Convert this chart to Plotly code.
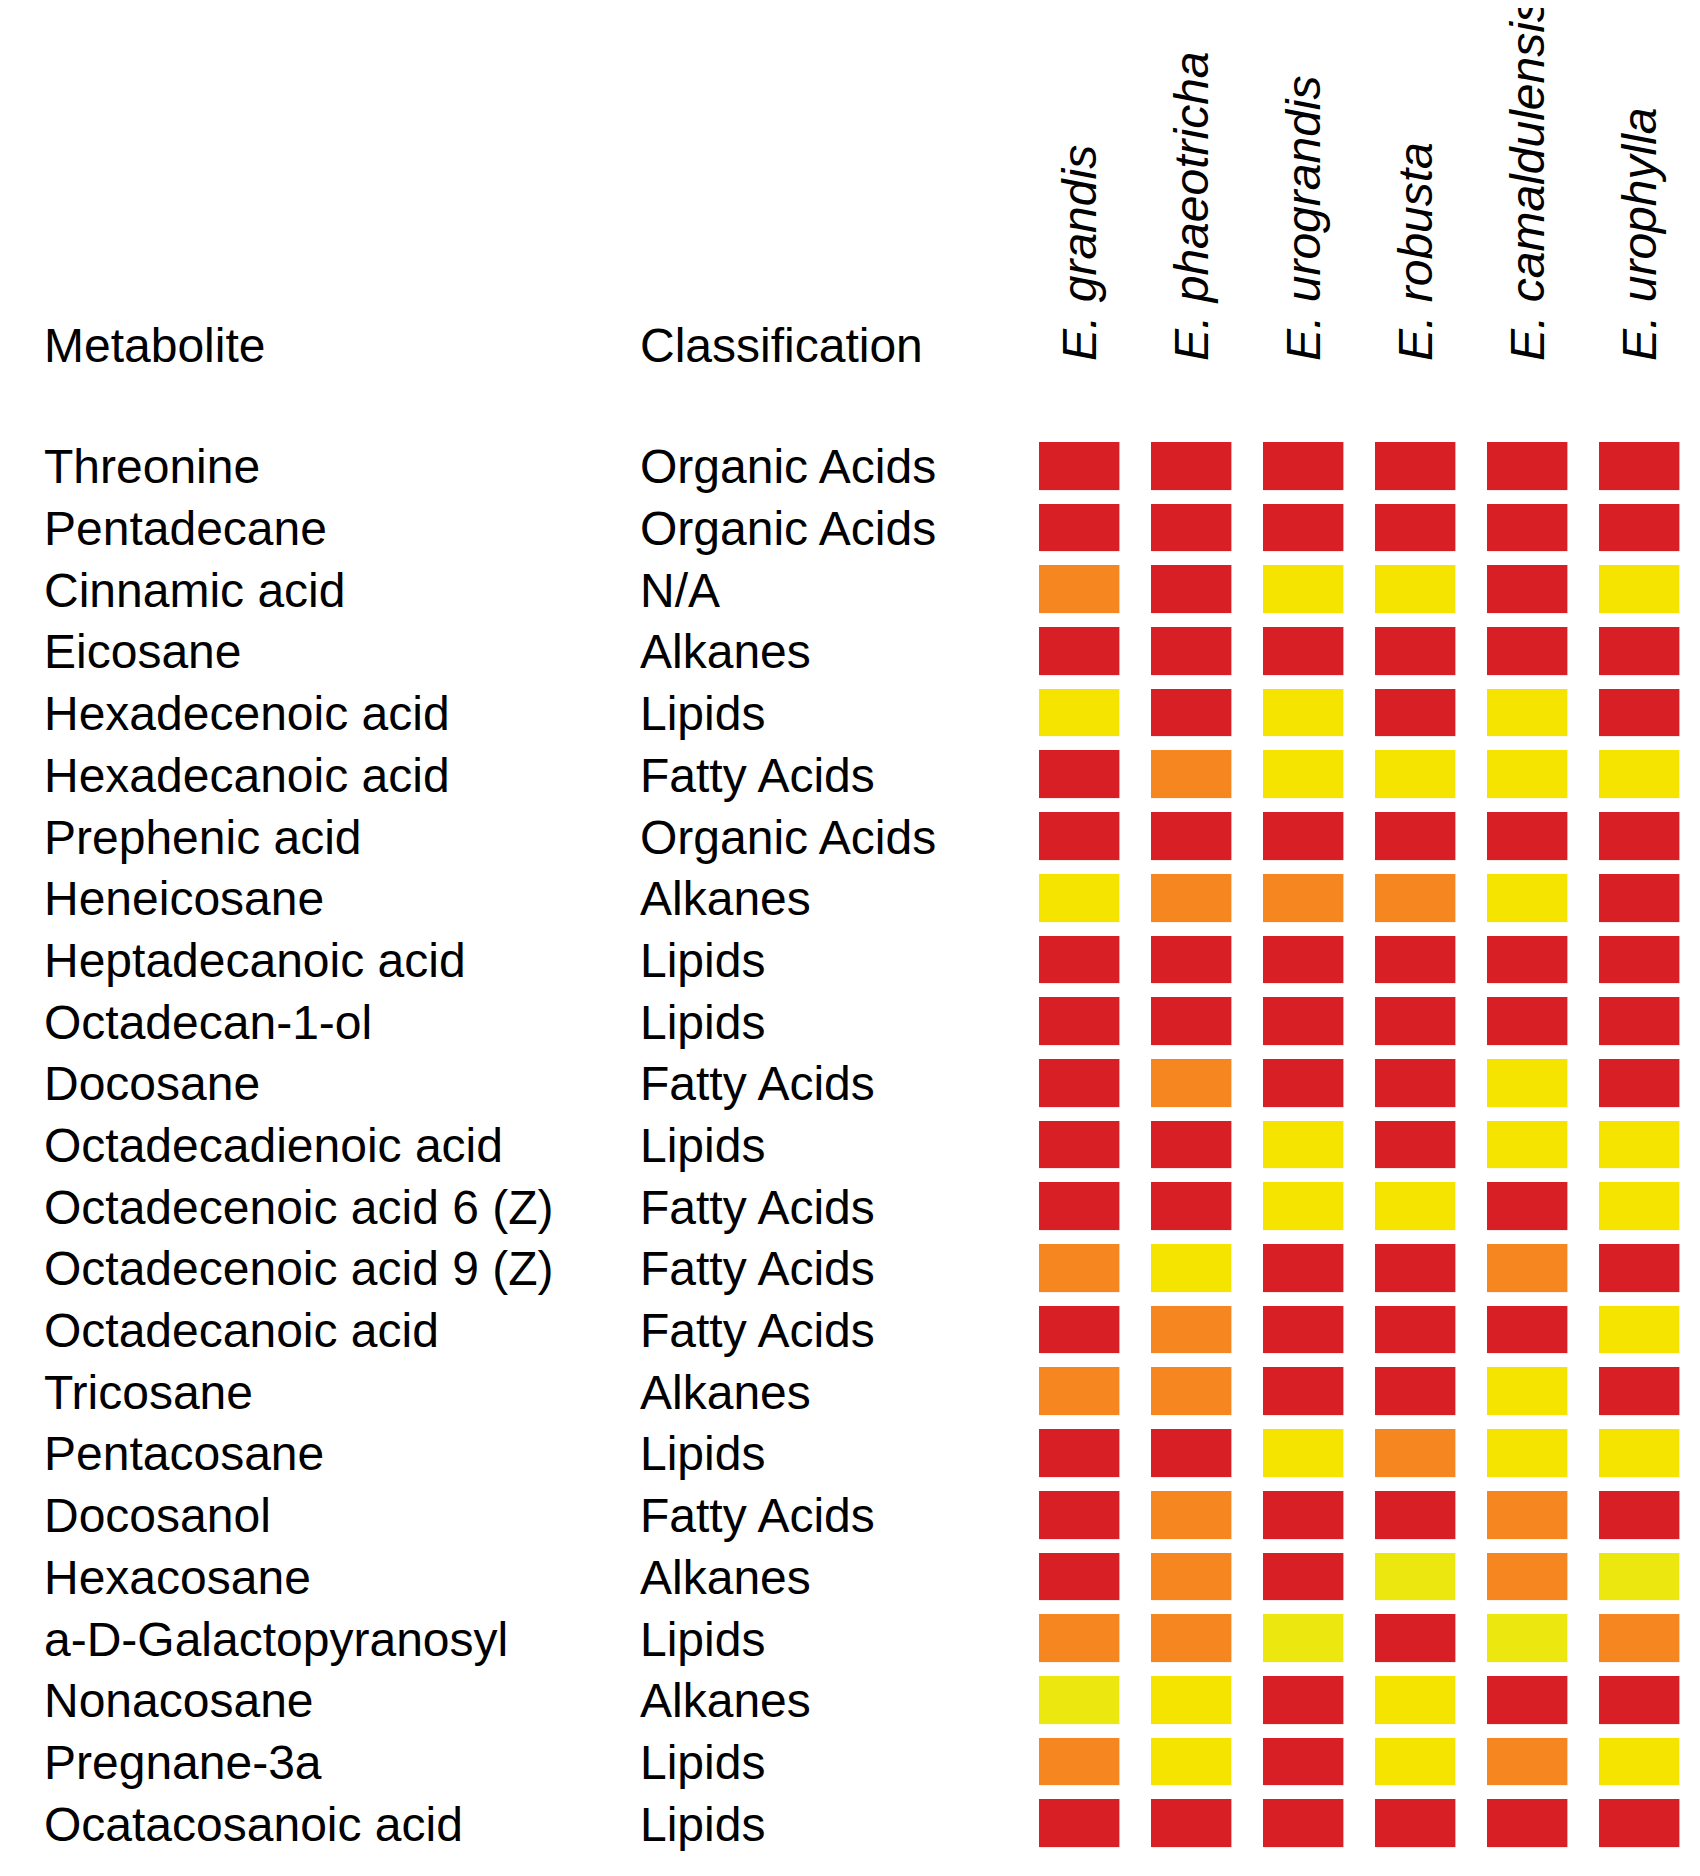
import plotly.graph_objects as go

species = ['E. grandis', 'E. phaeotricha', 'E. urograndis', 'E. robusta',
           'E. camaldulensis', 'E. urophylla']

metabolites = [
    'Threonine', 'Pentadecane', 'Cinnamic acid', 'Eicosane', 'Hexadecenoic acid',
    'Hexadecanoic acid', 'Prephenic acid', 'Heneicosane', 'Heptadecanoic acid',
    'Octadecan-1-ol', 'Docosane', 'Octadecadienoic acid', 'Octadecenoic acid 6 (Z)',
    'Octadecenoic acid 9 (Z)', 'Octadecanoic acid', 'Tricosane', 'Pentacosane',
    'Docosanol', 'Hexacosane', 'a-D-Galactopyranosyl', 'Nonacosane', 'Pregnane-3a',
    'Ocatacosanoic acid',
]

classes = [
    'Organic Acids', 'Organic Acids', 'N/A', 'Alkanes', 'Lipids', 'Fatty Acids',
    'Organic Acids', 'Alkanes', 'Lipids', 'Lipids', 'Fatty Acids', 'Lipids',
    'Fatty Acids', 'Fatty Acids', 'Fatty Acids', 'Alkanes', 'Lipids', 'Fatty Acids',
    'Alkanes', 'Lipids', 'Alkanes', 'Lipids', 'Lipids',
]

# level per cell: 3 = red, 2 = orange, 1 = yellow, 0 = pale yellow
levels = [
    [3, 3, 3, 3, 3, 3],
    [3, 3, 3, 3, 3, 3],
    [2, 3, 1, 1, 3, 1],
    [3, 3, 3, 3, 3, 3],
    [1, 3, 1, 3, 1, 3],
    [3, 2, 1, 1, 1, 1],
    [3, 3, 3, 3, 3, 3],
    [1, 2, 2, 2, 1, 3],
    [3, 3, 3, 3, 3, 3],
    [3, 3, 3, 3, 3, 3],
    [3, 2, 3, 3, 1, 3],
    [3, 3, 1, 3, 1, 1],
    [3, 3, 1, 1, 3, 1],
    [2, 1, 3, 3, 2, 3],
    [3, 2, 3, 3, 3, 1],
    [2, 2, 3, 3, 1, 3],
    [3, 3, 1, 2, 1, 1],
    [3, 2, 3, 3, 2, 3],
    [3, 2, 3, 0, 2, 0],
    [2, 2, 0, 3, 0, 2],
    [0, 1, 3, 1, 3, 3],
    [2, 1, 3, 1, 2, 1],
    [3, 3, 3, 3, 3, 3],
]

W, H = 1700, 1876
FONT = 'Liberation Sans, Arial, sans-serif'

pale, yellow, orange, red = '#EBE70F', '#F4E400', '#F58620', '#D91F26'
cscale = [[0, pale], [1 / 6, pale], [1 / 6, yellow], [0.5, yellow],
          [0.5, orange], [5 / 6, orange], [5 / 6, red], [1, red]]

rows = list(range(len(metabolites)))

fig = go.Figure(go.Heatmap(
    z=levels,
    x=species,
    y=rows,
    zmin=0, zmax=3,
    colorscale=cscale,
    showscale=False,
    xgap=31.6,
    ygap=13.9,
    hoverinfo='skip',
))

for i, (name, cls) in enumerate(zip(metabolites, classes)):
    fig.add_annotation(x=34 / W, y=i, xref='paper', yref='y', text=name,
                       showarrow=False, xanchor='left', yanchor='middle',
                       font=dict(size=48, color='black', family=FONT))
    fig.add_annotation(x=630 / W, y=i, xref='paper', yref='y', text=cls,
                       showarrow=False, xanchor='left', yanchor='middle',
                       font=dict(size=48, color='black', family=FONT))

for txt, xp in [('Metabolite', 34), ('Classification', 630)]:
    fig.add_annotation(x=xp / W, y=1 - 337 / H, xref='paper', yref='paper', text=txt,
                       showarrow=False, xanchor='left', yanchor='middle',
                       font=dict(size=48, color='black', family=FONT))

fig.update_xaxes(
    domain=[1016 / W, 1688 / W], side='top', tickangle=-90, ticks='',
    ticklabelstandoff=74, showgrid=False, zeroline=False, showline=False,
    automargin=False,
    tickfont=dict(size=48, color='black', family=FONT, style='italic'),
)
fig.update_yaxes(
    domain=[29 / H, 1 - 428 / H], autorange='reversed', showticklabels=False,
    ticks='', showgrid=False, zeroline=False, showline=False, automargin=False,
)
fig.update_layout(
    width=W, height=H,
    margin=dict(l=0, r=0, t=0, b=0),
    paper_bgcolor='white', plot_bgcolor='white',
    template='none',
)

fig.write_html('out.html')
